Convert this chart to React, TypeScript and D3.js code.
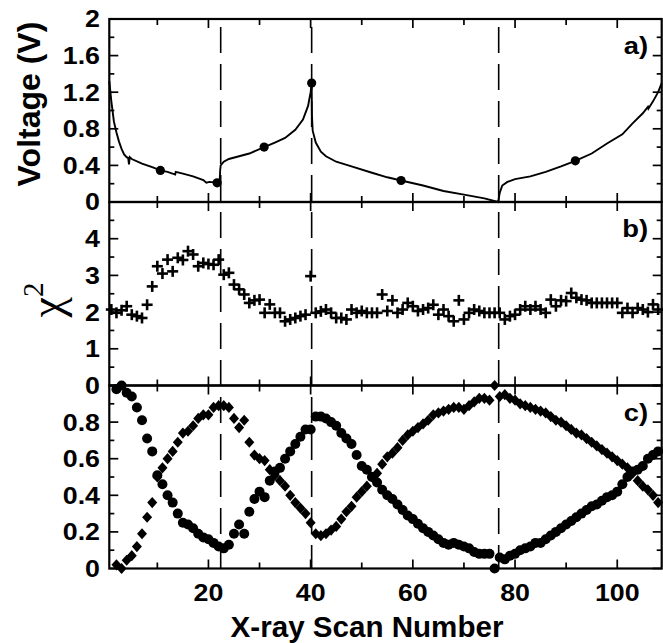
import React from 'react';
import * as d3 from 'd3';

// ---------- data ----------
const voltScan = [0.6,1.0,1.5,2.0,2.5,3.0,3.5,4.0,4.3,4.45,4.6,5,7,9,10.6,12,13.5,13.6,15,17,19,19.6,20.2,21.7,22.2,22.3,22.4,23,24,26,28,30.9,33,35,37,38.5,39.5,40.0,40.2,40.25,40.4,41,42,43,45,48,52,55,57.7,62,66,70,74,76.7,77.0,77.5,78.5,80,83,86,89,91.8,95,98,101,103,105,106,106.1,107,108,108.7];
const voltValue = [1.32,1.10,0.88,0.76,0.66,0.58,0.52,0.49,0.48,0.41,0.49,0.47,0.42,0.38,0.345,0.33,0.30,0.33,0.31,0.28,0.24,0.21,0.22,0.21,0.22,0.35,0.40,0.44,0.47,0.50,0.53,0.60,0.65,0.70,0.79,0.90,1.05,1.20,1.30,0.95,0.78,0.65,0.55,0.50,0.44,0.39,0.32,0.27,0.235,0.18,0.12,0.08,0.04,0.0,0.10,0.18,0.22,0.25,0.28,0.33,0.39,0.45,0.53,0.64,0.74,0.86,0.97,1.04,1.02,1.10,1.20,1.30];
const voltDotScan = [10.6, 21.7, 30.9, 40.2, 57.7, 91.8];
const voltDotValue = [0.345, 0.21, 0.60, 1.30, 0.235, 0.45];

// chi^2 for scans 1..108
const chiValues = [2.07,1.98,2.05,2.16,1.93,1.89,1.84,2.2,2.7,3.25,3.05,3.43,3.11,3.48,3.42,3.66,3.57,3.25,3.34,3.31,3.29,3.43,3.02,3.07,2.75,2.62,2.48,2.25,2.32,2.34,1.98,2.21,1.98,1.98,1.75,1.80,1.84,1.89,1.93,2.98,1.98,2.02,2.07,1.98,1.84,1.84,1.80,2.07,1.98,2.03,1.98,1.98,1.98,2.48,2.03,2.32,1.98,2.07,2.25,2.16,2.03,2.07,2.11,2.2,1.93,2.07,1.89,1.75,2.32,1.80,1.98,2.07,2.03,1.98,1.98,1.98,1.98,1.80,1.89,1.93,2.07,2.16,2.07,2.16,2.07,1.98,2.34,2.16,2.32,2.30,2.52,2.39,2.34,2.32,2.25,2.25,2.25,2.25,2.25,2.25,1.98,2.11,1.98,2.11,2.07,2.0,2.21,2.07];

// panel c, scans 2..108
const circleValues = [0.98,1.00,0.96,0.94,0.88,0.81,0.71,0.64,0.51,0.46,0.40,0.36,0.30,0.25,0.24,0.22,0.19,0.17,0.16,0.14,0.12,0.11,0.13,0.19,0.24,0.19,0.31,0.38,0.42,0.39,0.48,0.53,0.55,0.60,0.64,0.68,0.72,0.76,0.76,0.83,0.83,0.82,0.80,0.78,0.74,0.71,0.68,0.62,0.56,0.54,0.50,0.47,0.43,0.40,0.38,0.35,0.32,0.29,0.27,0.245,0.22,0.20,0.18,0.16,0.14,0.13,0.14,0.13,0.12,0.11,0.09,0.08,0.08,0.08,0.00,0.06,0.05,0.07,0.08,0.10,0.11,0.12,0.14,0.14,0.16,0.18,0.20,0.22,0.24,0.26,0.28,0.30,0.32,0.34,0.35,0.37,0.39,0.40,0.42,0.46,0.50,0.53,0.54,0.56,0.60,0.62,0.64];
const diamondValues = [0.02,0.00,0.045,0.07,0.12,0.19,0.28,0.36,0.50,0.55,0.60,0.64,0.69,0.74,0.75,0.78,0.82,0.84,0.84,0.88,0.89,0.89,0.88,0.82,0.77,0.81,0.69,0.62,0.60,0.59,0.54,0.51,0.48,0.45,0.40,0.36,0.33,0.30,0.25,0.19,0.18,0.19,0.21,0.23,0.27,0.31,0.34,0.39,0.42,0.45,0.50,0.52,0.57,0.61,0.63,0.66,0.70,0.73,0.75,0.77,0.79,0.81,0.84,0.85,0.86,0.87,0.88,0.88,0.87,0.89,0.91,0.93,0.93,0.92,1.00,0.94,0.95,0.93,0.92,0.90,0.89,0.88,0.87,0.86,0.85,0.83,0.81,0.80,0.78,0.76,0.74,0.73,0.71,0.69,0.67,0.65,0.63,0.61,0.59,0.57,0.55,0.52,0.48,0.45,0.43,0.40,0.36];

const dashedScans = [22.4, 40.2, 76.8];
const xTickValues = [10, 20, 30, 40, 50, 60, 70, 80, 90, 100];
const xTickLabels = ['20', '40', '60', '80', '100'];
const voltTickLabels = ['0', '0.4', '0.8', '1.2', '1.6', '2'];
const chiTickLabels = ['0', '1', '2', '3', '4'];
const fracTickLabels = ['0', '0.2', '0.4', '0.6', '0.8'];

const FONT = "'Liberation Sans', Arial, sans-serif";
const SX = 1.14; // horizontal stretch of the bold lettering

function BoldText({ x, y, size, anchor, children }: { x: number; y: number; size: number; anchor: string; children: React.ReactNode }) {
  return (
    <text transform={`translate(${x},${y}) scale(${SX},1)`} textAnchor={anchor}
      fontFamily={FONT} fontWeight="bold" fontSize={size} fill="#000">{children}</text>
  );
}

export default function App() {
  const L = 109.3, R = 661.7;
  const x = d3.scaleLinear().domain([0.6, 108.7]).range([L, R]);
  const yA = d3.scaleLinear().domain([0, 2]).range([202, 19]);
  const yB = d3.scaleLinear().domain([0, 5]).range([385.5, 202]);
  const yC = d3.scaleLinear().domain([0, 1]).range([568.5, 385.5]);

  const panels = [
    { y: yA, minor: d3.range(0, 2.001, 0.2), majorStep: 0.4, labels: voltTickLabels, tag: 'a)' },
    { y: yB, minor: d3.range(0, 5.001, 0.5), majorStep: 1, labels: chiTickLabels, tag: 'b)' },
    { y: yC, minor: d3.range(0, 1.001, 0.1), majorStep: 0.2, labels: fracTickLabels, tag: 'c)' },
  ];

  const voltPts: [number, number][] = voltScan.map((s, i) => [s, voltValue[i]]);
  const voltLine = d3.line<[number, number]>().x(d => x(d[0])).y(d => yA(d[1]))(voltPts) || '';

  const isMajor = (v: number, step: number) => Math.abs(v / step - Math.round(v / step)) < 1e-6;

  const tickFs = 23.5;
  const els: React.ReactNode[] = [];

  panels.forEach((p, pi) => {
    const [y0, y1] = p.y.range();
    p.minor.forEach((v, i) => {
      const yy = p.y(v);
      const len = isMajor(v, p.majorStep) ? 9 : 5;
      els.push(<line key={`yl${pi}-${i}`} x1={L} x2={L + len} y1={yy} y2={yy} stroke="#000" strokeWidth={1.7} />);
      els.push(<line key={`yr${pi}-${i}`} x1={R} x2={R - len} y1={yy} y2={yy} stroke="#000" strokeWidth={1.7} />);
    });
    xTickValues.forEach((v, i) => {
      const xx = x(v);
      const len = v % 20 === 0 ? 9 : 6;
      els.push(<line key={`xb${pi}-${i}`} x1={xx} x2={xx} y1={y0} y2={y0 - len} stroke="#000" strokeWidth={1.7} />);
      els.push(<line key={`xt${pi}-${i}`} x1={xx} x2={xx} y1={y1} y2={y1 + len} stroke="#000" strokeWidth={1.7} />);
    });
    p.labels.forEach((lab, i) => {
      els.push(
        <BoldText key={`ylab${pi}-${i}`} x={100} y={p.y(Number(lab)) + tickFs * 0.36} size={tickFs} anchor="end">{lab}</BoldText>
      );
    });
    els.push(<BoldText key={`tag${pi}`} x={648} y={y1 + 35} size={24} anchor="end">{p.tag}</BoldText>);
    els.push(<rect key={`fr${pi}`} x={L} y={y1} width={R - L} height={y0 - y1} fill="none" stroke="#000" strokeWidth={2.2} />);
  });

  const plus = (cx: number, cy: number, k: string) => (
    <g key={k} stroke="#000" strokeWidth={2.6}>
      <line x1={cx - 5.5} x2={cx + 5.5} y1={cy} y2={cy} />
      <line x1={cx} x2={cx} y1={cy - 5.5} y2={cy + 5.5} />
    </g>
  );
  const diamond = (cx: number, cy: number, k: string) => (
    <path key={k} d={`M${cx},${cy - 5.6}L${cx + 5},${cy}L${cx},${cy + 5.6}L${cx - 5},${cy}Z`} fill="#000" />
  );

  return (
    <svg width={663} height={643} style={{ position: 'absolute', left: 0, top: 0, background: '#fff' }}>
      <rect x={0} y={0} width={663} height={643} fill="#fff" />
      {dashedScans.map((s, i) => (
        <line key={`dash${i}`} x1={x(s)} x2={x(s)} y1={19} y2={568.5} stroke="#000" strokeWidth={1.6} strokeDasharray="26 11" strokeDashoffset={-8} />
      ))}
      <path d={voltLine} fill="none" stroke="#000" strokeWidth={1.9} />
      {voltDotScan.map((s, i) => (
        <circle key={`vd${i}`} cx={x(s)} cy={yA(voltDotValue[i])} r={4.6} fill="#000" />
      ))}
      {chiValues.map((v, i) => plus(x(i + 1), yB(v), `chi${i}`))}
      {diamondValues.map((v, i) => diamond(x(i + 2), yC(v), `dm${i}`))}
      {circleValues.map((v, i) => (
        <circle key={`cc${i}`} cx={x(i + 2)} cy={yC(v)} r={5} fill="#000" />
      ))}
      {els}
      {xTickLabels.map((lab) => (
        <BoldText key={`xl${lab}`} x={x(Number(lab))} y={601} size={tickFs} anchor="middle">{lab}</BoldText>
      ))}
      <text transform="translate(367,637) scale(1.02,1)" textAnchor="middle" fontFamily={FONT} fontWeight="bold" fontSize={29} fill="#000">X-ray Scan Number</text>
      <text transform="translate(40,104) rotate(-90)" textAnchor="middle" fontFamily={FONT} fontWeight="bold" fontSize={32} fill="#000">Voltage (V)</text>
      <text transform="translate(62,300) rotate(-90)" textAnchor="middle" fontFamily="'Liberation Serif', 'DejaVu Serif', serif" fontSize={46} fill="#000">
        χ<tspan fontSize={29} dy={-19}>2</tspan>
      </text>
    </svg>
  );
}
